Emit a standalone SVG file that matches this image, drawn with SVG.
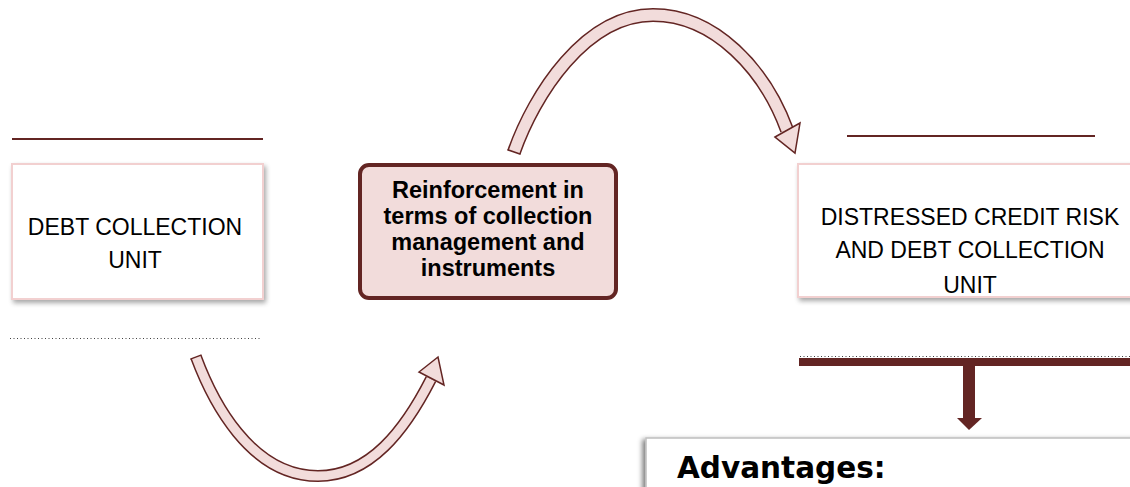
<svg xmlns="http://www.w3.org/2000/svg" width="1130" height="487" viewBox="0 0 1130 487">
<defs>
<style>
.rule{stroke:#632523;stroke-width:2;fill:none}
.dots{stroke:#404040;stroke-width:1;stroke-dasharray:1 2.5;fill:none}
.unit{fill:#fff;stroke:#f2d0d0;stroke-width:2}
.txt{font-family:"Liberation Sans",Arial,sans-serif;font-size:23px;fill:#000;text-anchor:middle}
.btxt{font-family:"Liberation Sans",Arial,sans-serif;font-size:23.5px;font-weight:bold;fill:#000;text-anchor:middle}
.band-o{stroke:#632523;fill:none;stroke-linecap:butt}
.band-i{stroke:#f2dcdb;fill:none;stroke-linecap:butt}
.head{fill:#f2dcdb;stroke:#632523;stroke-width:1.5;stroke-linejoin:miter}
.cap{stroke:#632523;stroke-width:1.5}
</style>
<filter id="sh" x="-10%" y="-10%" width="120%" height="130%">
<feGaussianBlur in="SourceAlpha" stdDeviation="2.5"/>
<feOffset dx="2" dy="3" result="b"/>
<feComponentTransfer><feFuncA type="linear" slope="0.35"/></feComponentTransfer>
<feMerge><feMergeNode/><feMergeNode in="SourceGraphic"/></feMerge>
</filter>
<filter id="sh2" x="-10%" y="-20%" width="120%" height="150%">
<feGaussianBlur in="SourceAlpha" stdDeviation="2.5"/>
<feOffset dx="-3" dy="2" result="b"/>
<feComponentTransfer><feFuncA type="linear" slope="0.5"/></feComponentTransfer>
<feMerge><feMergeNode/><feMergeNode in="SourceGraphic"/></feMerge>
</filter>
</defs>
<rect width="1130" height="487" fill="#fff"/>

<g id="debt-collection-unit">
<line class="rule" x1="12" y1="139" x2="263" y2="139"/>
<rect class="unit" x="12" y="164" width="251" height="135" filter="url(#sh)"/>
<text class="txt" x="135" y="235">DEBT COLLECTION</text>
<text class="txt" x="135" y="268">UNIT</text>
<line class="dots" x1="10" y1="338.5" x2="262" y2="338.5"/>
</g>

<g id="reinforcement">
<rect x="360" y="165" width="256" height="133" rx="9" ry="9" fill="#f2dcdb" stroke="#632523" stroke-width="4"/>
<text class="btxt" x="488" y="198">Reinforcement in</text>
<text class="btxt" x="488" y="224">terms of collection</text>
<text class="btxt" x="488" y="250">management and</text>
<text class="btxt" x="488" y="276">instruments</text>
</g>

<g id="distressed-unit">
<line class="rule" x1="847" y1="136" x2="1095" y2="136"/>
<rect class="unit" x="798" y="164" width="345" height="133" filter="url(#sh)"/>
<text class="txt" x="970" y="225">DISTRESSED CREDIT RISK</text>
<text class="txt" x="970" y="258">AND DEBT COLLECTION</text>
<text class="txt" x="970" y="293">UNIT</text>
<line class="dots" x1="800" y1="356.5" x2="1130" y2="356.5"/>
</g>

<g id="advantages">
<rect x="646" y="438" width="500" height="70" fill="#fff" stroke="#bfbfbf" stroke-width="1.5" filter="url(#sh2)"/>
<text x="677" y="478" font-family="DejaVu Sans,Verdana,sans-serif" font-size="29.5px" font-weight="bold" fill="#000">Advantages:</text>
</g>

<g id="connectors">
<!-- top arc arrow -->
<path class="band-o" stroke-width="14" d="M514,152 C534,95 585,15 653,15 C715,15 765,70 787,130"/>
<path class="band-i" stroke-width="11" d="M514,152 C534,95 585,15 653,15 C715,15 765,70 787,130"/>
<line class="cap" x1="507.4" y1="149.7" x2="520.6" y2="154.3"/>
<polygon class="head" points="775,137 800,123 795,153"/>
<!-- bottom arc arrow -->
<path class="band-o" stroke-width="12" d="M196,357 C212,400 250,476 318,476 C370,476 405,430 431,379"/>
<path class="band-i" stroke-width="9" d="M196,357 C212,400 250,476 318,476 C370,476 405,430 431,379"/>
<line class="cap" x1="190.4" y1="359.1" x2="201.6" y2="354.9"/>
<polygon class="head" points="419,372 444,385 438,357"/>
<!-- bar and down arrow -->
<rect x="799" y="358" width="331" height="8" fill="#632523"/>
<rect x="963" y="365" width="12" height="54" fill="#632523"/>
<polygon points="957,418 982,418 969,430" fill="#632523"/>
</g>
</svg>
